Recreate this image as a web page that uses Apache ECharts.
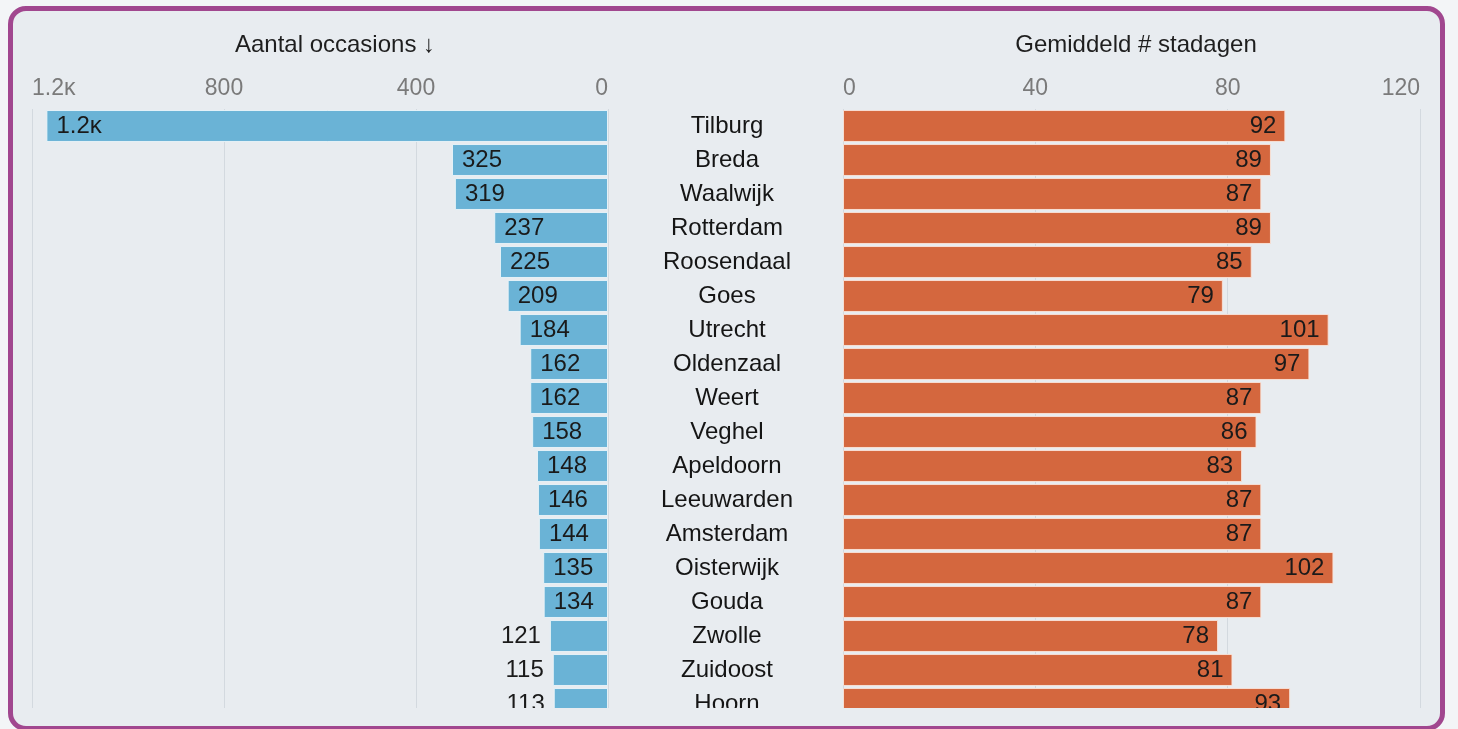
<!DOCTYPE html>
<html>
<head>
<meta charset="utf-8">
<script src="https://cdn.jsdelivr.net/npm/echarts@6/dist/echarts.min.js"></script>
<style>
  html, body { margin: 0; padding: 0; background: #f3f5f7; width: 1458px; height: 729px; overflow: hidden; }
  #bg { position: absolute; left: 8px; top: 6px; width: 1437px; height: 725px; box-sizing: border-box; border-radius: 18px; background: #e8ecf0; z-index: 0; }
  #frame { position: absolute; left: 8px; top: 6px; width: 1437px; height: 725px; box-sizing: border-box; border: 5px solid #a1478f; border-radius: 18px; z-index: 2; pointer-events: none; }
  #chart { position: absolute; left: 0; top: 0; width: 1458px; height: 729px; z-index: 1; }
</style>
</head>
<body>
<div id="bg"></div>
<div id="chart"></div>
<div id="frame"></div>
<script>
const cities = ['Tilburg', 'Breda', 'Waalwijk', 'Rotterdam', 'Roosendaal', 'Goes', 'Utrecht', 'Oldenzaal', 'Weert', 'Veghel', 'Apeldoorn', 'Leeuwarden', 'Amsterdam', 'Oisterwijk', 'Gouda', 'Zwolle', 'Zuidoost', 'Hoorn'];
const occasions = [1170, 325, 319, 237, 225, 209, 184, 162, 162, 158, 148, 146, 144, 135, 134, 121, 115, 113];
const stadagen = [92, 89, 87, 89, 85, 79, 101, 97, 87, 86, 83, 87, 87, 102, 87, 78, 81, 93];
const leftTitle = 'Aantal occasions \u2193';
const rightTitle = 'Gemiddeld # stadagen';

const FONT = '"Liberation Sans", "DejaVu Sans", Arial, sans-serif';
const fmtK = v => v >= 1000 ? (v / 1000).toFixed(1) + '\u1D0B' : String(v);

const chart = echarts.init(document.getElementById('chart'), null, { renderer: 'canvas' });

const leftData = occasions.map(v => {
  const inside = v >= 130;
  return {
    value: v,
    label: inside
      ? { position: 'insideLeft', distance: 10 }
      : { position: 'left', distance: 9 }
  };
});

const option = {
  backgroundColor: 'transparent',
  animation: false,
  textStyle: { fontFamily: FONT },
  title: [
    { text: leftTitle, left: 330, top: 28, textAlign: 'center',
      textStyle: { fontFamily: FONT, fontSize: 24, fontWeight: 'normal', color: '#1e1e1e' } },
    { text: rightTitle, left: 1131, top: 28, textAlign: 'center',
      textStyle: { fontFamily: FONT, fontSize: 24, fontWeight: 'normal', color: '#1e1e1e' } }
  ],
  grid: [
    { left: 32, width: 576, top: 109, height: 612, containLabel: false },
    { left: 843, width: 577, top: 109, height: 612, containLabel: false }
  ],
  xAxis: [
    { type: 'value', gridIndex: 0, position: 'top', inverse: true, min: 0, max: 1200, interval: 400,
      axisLine: { show: false }, axisTick: { show: false },
      axisLabel: { color: '#7a7a7a', fontSize: 23, fontFamily: FONT, margin: 9, formatter: fmtK,
        alignMinLabel: 'right', alignMaxLabel: 'left' },
      splitLine: { show: true, lineStyle: { color: '#d3d9df', width: 1 } } },
    { type: 'value', gridIndex: 1, position: 'top', min: 0, max: 120, interval: 40,
      axisLine: { show: false }, axisTick: { show: false },
      axisLabel: { color: '#7a7a7a', fontSize: 23, fontFamily: FONT, margin: 9,
        alignMinLabel: 'left', alignMaxLabel: 'right' },
      splitLine: { show: true, lineStyle: { color: '#d3d9df', width: 1 } } }
  ],
  yAxis: [
    { type: 'category', gridIndex: 0, data: cities, inverse: true, show: false },
    { type: 'category', gridIndex: 1, data: cities, inverse: true,
      axisLine: { show: false }, axisTick: { show: false },
      axisLabel: { align: 'center', margin: 116, color: '#151515', fontSize: 24, fontFamily: FONT } }
  ],
  series: [
    { type: 'bar', xAxisIndex: 0, yAxisIndex: 0, data: leftData, barCategoryGap: '6%',
      itemStyle: { color: '#6ab3d6', borderColor: 'rgba(235,245,250,0.9)', borderWidth: 1 },
      label: { show: true, color: '#1a1a1a', fontSize: 24, fontFamily: FONT, formatter: p => fmtK(p.value) } },
    { type: 'bar', xAxisIndex: 1, yAxisIndex: 1, data: stadagen, barCategoryGap: '6%',
      itemStyle: { color: '#d4673e', borderColor: 'rgba(250,228,218,0.9)', borderWidth: 1 },
      label: { show: true, position: 'insideRight', distance: 9, color: '#1a1a1a', fontSize: 24, fontFamily: FONT } }
  ],
  graphic: [
    { type: 'rect', z: 100, shape: { x: 13, y: 708, width: 1427, height: 16 }, style: { fill: '#e8ecf0' } }
  ]
};
chart.setOption(option);
</script>
</body>
</html>
